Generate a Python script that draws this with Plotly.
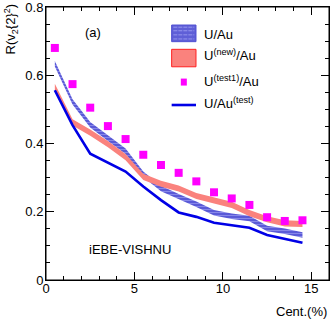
import plotly.graph_objects as go

cent = [0.5, 1.5, 2.5, 3.5, 4.5, 5.5, 6.5, 7.5, 8.5, 9.5, 10.5, 11.5, 12.5, 13.5, 14.5]
u_au = [0.634, 0.522, 0.455, 0.415, 0.377, 0.310, 0.268, 0.244, 0.222, 0.197, 0.187, 0.180, 0.151, 0.143, 0.132]
u_au_err = [0.008] * 15
u_new = [0.566, 0.462, 0.432, 0.398, 0.360, 0.302, 0.282, 0.268, 0.246, 0.232, 0.220, 0.196, 0.178, 0.166, 0.164]
u_new_err = [0.009] * 15
u_test1 = [0.680, 0.574, 0.505, 0.451, 0.413, 0.367, 0.337, 0.314, 0.289, 0.257, 0.239, 0.220, 0.184, 0.173, 0.175]
u_test = [0.556, 0.454, 0.370, 0.343, 0.318, 0.274, 0.234, 0.198, 0.185, 0.168, 0.160, 0.153, 0.132, 0.120, 0.109]
legend_names = ["U/Au", "U<sup>(new)</sup>/Au", "U<sup>(test1)</sup>/Au", "U/Au<sup>(test)</sup>"]

FONT = "Liberation Sans, Arial, sans-serif"
BLUE_FILL = "rgba(95,95,215,1)"
BLUE_LIGHT = "rgba(150,150,238,1)"
BLUE_PAT = dict(shape="-", fgcolor="rgba(140,140,235,1)", bgcolor="rgba(90,90,215,1)",
                size=3, solidity=0.3, fillmode="replace")
RED_FILL = "rgba(250,130,125,1)"
MAGENTA = "#ff00ff"
LINE_BLUE = "#0000e6"

def band(x, y, e):
    up = [a + b for a, b in zip(y, e)]
    lo = [a - b for a, b in zip(y, e)]
    return x + x[::-1], up + lo[::-1]

fig = go.Figure()

bx, by = band(cent, u_au, u_au_err)
fig.add_trace(go.Scatter(x=bx, y=by, fill="toself", mode="lines", name=legend_names[0],
                         line=dict(width=0, color=BLUE_FILL), fillcolor=BLUE_FILL,
                         fillpattern=BLUE_PAT, showlegend=False, hoverinfo="skip"))
rx, ry = band(cent, u_new, u_new_err)
fig.add_trace(go.Scatter(x=rx, y=ry, fill="toself", mode="lines", name=legend_names[1],
                         line=dict(width=0, color=RED_FILL), fillcolor=RED_FILL,
                         showlegend=False, hoverinfo="skip"))
fig.add_trace(go.Scatter(x=cent, y=u_test1, mode="markers", name=legend_names[2],
                         marker=dict(symbol="square", size=8, color=MAGENTA),
                         showlegend=False))
fig.add_trace(go.Scatter(x=cent, y=u_test, mode="lines", name=legend_names[3],
                         line=dict(color=LINE_BLUE, width=2.6),
                         showlegend=False))

# ---- legend (drawn in paper coordinates) ----
LX0, LX1 = 0.444, 0.530
fig.add_shape(type="rect", xref="paper", yref="paper", x0=LX0, x1=LX1, y0=0.873, y1=0.934,
              fillcolor=BLUE_FILL, line=dict(color="rgba(80,80,210,1)", width=1))
for yy in [0.883, 0.898, 0.913, 0.926]:
    fig.add_shape(type="line", xref="paper", yref="paper", x0=LX0 + 0.006, x1=LX1 - 0.006,
                  y0=yy, y1=yy, line=dict(color=BLUE_LIGHT, width=1, dash="4px,1px"))
fig.add_shape(type="rect", xref="paper", yref="paper", x0=LX0, x1=LX1, y0=0.781, y1=0.845,
              fillcolor=RED_FILL, line=dict(color="#ff2020", width=1))
fig.add_shape(type="rect", xref="paper", yref="paper", x0=0.487 - 0.0106, x1=0.487 + 0.0106,
              y0=0.725 - 0.0128, y1=0.725 + 0.0128, fillcolor=MAGENTA, line=dict(width=0))
fig.add_shape(type="line", xref="paper", yref="paper", x0=LX0, x1=LX1, y0=0.641, y1=0.641,
              line=dict(color=LINE_BLUE, width=2.6))
for name, yy in zip(legend_names, [0.901, 0.823, 0.728, 0.650]):
    fig.add_annotation(x=0.550, y=yy, xref="paper", yref="paper", text=name,
                       showarrow=False, xanchor="left", yanchor="middle",
                       font=dict(family=FONT, size=13, color="black"))

# plot frame
fig.add_shape(type="rect", xref="paper", yref="paper", x0=0, x1=1, y0=0, y1=1,
              line=dict(color="black", width=1), fillcolor="rgba(0,0,0,0)", layer="above")

axis_common = dict(showline=True, linecolor="black", linewidth=1, mirror="allticks",
                   ticks="inside", ticklen=8, tickcolor="black", tickwidth=1,
                   showgrid=False, zeroline=False, automargin=False,
                   ticklabeloverflow="allow",
                   tickfont=dict(family=FONT, size=13, color="black"))

fig.update_xaxes(range=[0, 16], tickvals=[0, 5, 10, 15], ticktext=["0", "5", "10", "15"],
                 minor=dict(dtick=1, tick0=0, ticks="inside", ticklen=4, tickcolor="black"),
                 ticklabelstandoff=-4, **axis_common)
fig.update_yaxes(range=[0, 0.8], tickvals=[0, 0.2, 0.4, 0.6, 0.8],
                 ticktext=["0", "0.2", "0.4", "0.6", "0.8"],
                 minor=dict(dtick=0.05, tick0=0, ticks="inside", ticklen=4, tickcolor="black"),
                 ticklabelstandoff=-1, **axis_common)

fig.add_annotation(x=-0.125, y=0.92, xref="paper", yref="paper",
                   text="R(v<sub>2</sub>{2}<sup>2</sup>)", textangle=-90,
                   showarrow=False, xanchor="center", yanchor="middle",
                   font=dict(family=FONT, size=13, color="black"))
fig.add_annotation(x=1, y=-0.116, xref="paper", yref="paper", text="Cent.(%)",
                   showarrow=False, xanchor="right", yanchor="middle",
                   font=dict(family=FONT, size=13, color="black"))
fig.add_annotation(x=0.166, y=0.905, xref="paper", yref="paper", text="(a)",
                   showarrow=False, xanchor="center", yanchor="middle",
                   font=dict(family=FONT, size=13, color="black"))
fig.add_annotation(x=0.145, y=0.11, xref="paper", yref="paper", text="iEBE-VISHNU",
                   showarrow=False, xanchor="left", yanchor="middle",
                   font=dict(family=FONT, size=13, color="black"))

fig.update_layout(
    width=332, height=319,
    margin=dict(l=46, r=3, t=7, b=39, autoexpand=False),
    paper_bgcolor="white", plot_bgcolor="white",
    font=dict(family=FONT, size=13, color="black"),
    showlegend=False,
)

fig.write_html("out.html", config={"displayModeBar": False},
               post_script="document.body.style.margin='0';document.body.style.overflow='hidden';")
